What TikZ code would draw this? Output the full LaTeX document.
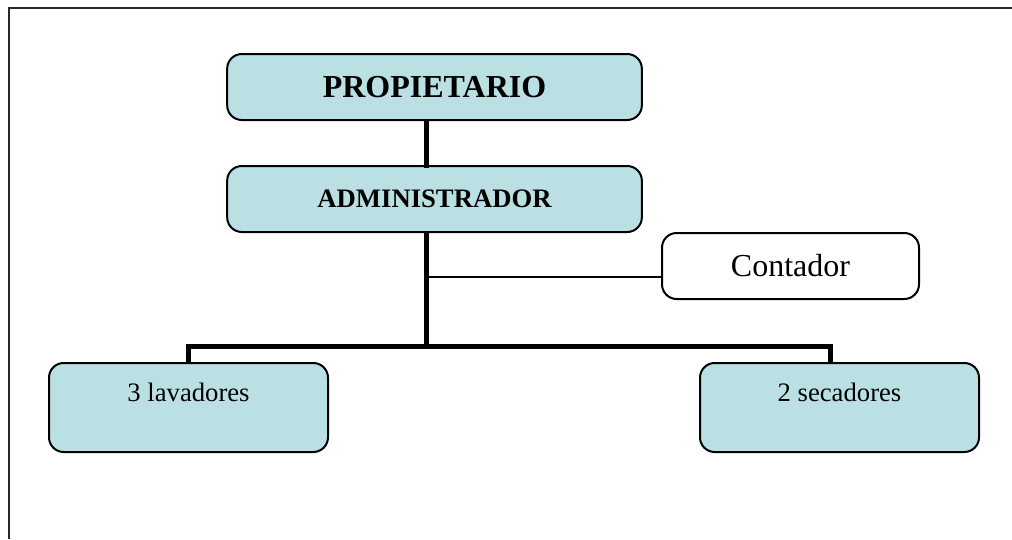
\documentclass[tikz,border=0pt]{standalone}
\usepackage{fontspec}
\setmainfont{Liberation Serif}
\usepackage{tikz}
\usetikzlibrary{positioning}

\definecolor{celeste}{RGB}{187,224,227}
\definecolor{marco}{RGB}{40,40,40}

\begin{document}
\begin{tikzpicture}
                [x=0.75pt, y=-0.75pt,
                 cargo/.style = {draw, line width=1.5pt, rounded corners=11pt, fill=celeste, inner sep=0pt},
                 cargob/.style = {cargo, fill=white},
                 grueso/.style = {line width=3.75pt, line cap=rect},
                 fino/.style = {line width=1.8pt}]

                \useasboundingbox (0,0) rectangle (1012,539);
                % marco de la pagina
                \draw[marco, line width=1.2pt] (9,539) -- (9,8) -- (1012,8);

                \node[cargo, minimum width=311pt, minimum height=49.5pt, font=\fontsize{24}{28}\selectfont\bfseries] (prop) at (434.5,87) {PROPIETARIO};
                \node[cargo, minimum width=311pt, minimum height=49.5pt, font=\fontsize{20}{24}\selectfont\bfseries] (admin) at (434.5,199) {ADMINISTRADOR};
                \node[cargob, minimum width=192.75pt, minimum height=49.5pt, font=\fontsize{24}{28}\selectfont] (cont) at (790.5,266) {Contador};
                \node[cargo, minimum width=209.25pt, text height=29pt, text depth=37.75pt, font=\fontsize{20}{24}\selectfont] (lav) at (188.5,407.5) {3 lavadores};
                \node[cargo, minimum width=209.25pt, text height=29pt, text depth=37.75pt, font=\fontsize{20}{24}\selectfont] (sec) at (839.5,407.5) {2 secadores};

                \coordinate (bus) at (426,346);
                \coordinate (jr) at (830,346);
                \coordinate (kc) at (426,277);

                \draw[grueso] (prop.south -| bus) -- (admin.north -| bus);
                \draw[grueso] (admin.south -| bus) -- (bus);
                \draw[fino] (kc) -- (kc -| cont.west);
                \draw[grueso, line cap=butt] (lav.north) |- (jr) -- (jr |- sec.north);
            \end{tikzpicture}
\end{document}
